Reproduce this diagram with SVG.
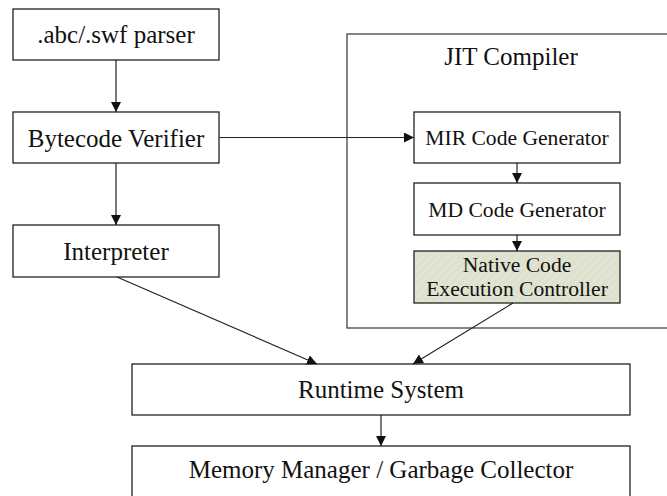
<svg xmlns="http://www.w3.org/2000/svg" width="667" height="496" viewBox="0 0 667 496">
<style>
.box{fill:#fff;stroke:#222;stroke-width:1.3}
.t{font-family:"Liberation Serif",serif;font-size:25px;fill:#111;text-anchor:middle}
.s{font-size:21.6px}
.c{stroke:#222;stroke-width:1.2;fill:none;marker-end:url(#ah)}
</style>
<defs>
<marker id="ah" viewBox="0 0 10 10" refX="10" refY="5" markerWidth="10" markerHeight="10" markerUnits="userSpaceOnUse" orient="auto">
<path d="M0,0 L10,5 L0,10 z" fill="#111"/>
</marker>
<pattern id="hatch" width="6" height="6" patternUnits="userSpaceOnUse" patternTransform="rotate(45)">
<rect width="6" height="6" fill="#dee1cd"/>
<line x1="0" y1="0" x2="0" y2="6" stroke="#ecede2" stroke-width="1.2"/>
</pattern>
</defs>
<g id="jit">
<rect x="347" y="34" width="340" height="294" fill="none" stroke="#444" stroke-width="1.3"/>
<text class="t" x="511" y="65">JIT Compiler</text>
</g>
<g id="parser">
<rect class="box" x="13" y="9" width="206" height="51"/>
<text class="t" x="116" y="43">.abc/.swf parser</text>
</g>
<g id="verifier">
<rect class="box" x="13" y="112" width="206" height="51"/>
<text class="t" x="116" y="146.5">Bytecode Verifier</text>
</g>
<g id="interpreter">
<rect class="box" x="13" y="225" width="206" height="52"/>
<text class="t" x="116" y="259.5">Interpreter</text>
</g>
<g id="mir">
<rect class="box" x="414" y="112" width="206" height="51"/>
<text class="t s" x="517" y="145">MIR Code Generator</text>
</g>
<g id="md">
<rect class="box" x="414" y="183" width="206" height="52"/>
<text class="t s" x="517" y="216.5">MD Code Generator</text>
</g>
<g id="native">
<rect x="414" y="251" width="206" height="52" fill="url(#hatch)" stroke="#222" stroke-width="1.3"/>
<text class="t s" x="517" y="272">Native Code</text>
<text class="t s" x="517" y="296">Execution Controller</text>
</g>
<g id="runtime">
<rect class="box" x="132" y="364" width="498" height="51"/>
<text class="t" x="381" y="398">Runtime System</text>
</g>
<g id="memory">
<rect class="box" x="132" y="446" width="498" height="60"/>
<text class="t" x="381" y="478">Memory Manager / Garbage Collector</text>
</g>
<g id="connectors">
<line class="c" x1="116" y1="60" x2="116" y2="112"/>
<line class="c" x1="116" y1="163" x2="116" y2="225"/>
<line class="c" x1="219" y1="137.5" x2="414" y2="137.5"/>
<line class="c" x1="517" y1="163" x2="517" y2="183"/>
<line class="c" x1="517" y1="235" x2="517" y2="251"/>
<line class="c" x1="117" y1="277" x2="317" y2="364"/>
<line class="c" x1="513" y1="303" x2="413" y2="364"/>
<line class="c" x1="381" y1="415" x2="381" y2="446"/>
</g>
</svg>
